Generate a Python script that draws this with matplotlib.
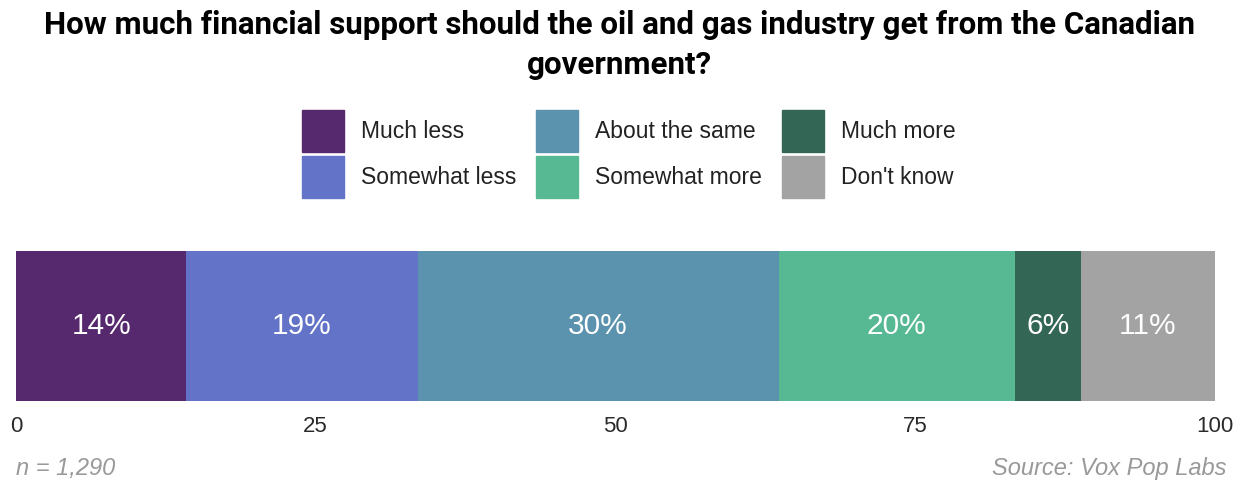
import matplotlib.pyplot as plt
from matplotlib.patches import Rectangle

# data
categories = ["Much less", "Somewhat less", "About the same",
              "Somewhat more", "Much more", "Don't know"]
shares = [14.2, 19.3, 30.1, 19.7, 5.5, 11.2]
labels = ["14%", "19%", "30%", "20%", "6%", "11%"]
colors = ["#56286e", "#6373c7", "#5b93ae", "#57b994", "#336654", "#a3a3a3"]
ticks = [0, 25, 50, 75, 100]

plt.rcParams['font.family'] = ['Liberation Sans', 'DejaVu Sans']

W, H = 1239, 483
fig = plt.figure(figsize=(W / 100, H / 100), dpi=100)
ax = fig.add_axes([16 / W, 1 - 401 / H, (1215 - 16) / W, 150 / H])

left = 0
for val, lab, col in zip(shares, labels, colors):
    ax.barh(0, val, left=left, height=1, color=col, edgecolor='none')
    ax.text(left + val / 2, 0, lab, ha='center', va='center',
            color='white', fontsize=21.5)
    left += val

ax.set_xlim(0, 100)
ax.set_ylim(-0.5, 0.5)
ax.set_yticks([])
ax.set_xticks(ticks)
ax.set_xticklabels([str(t) for t in ticks])
ax.tick_params(axis='x', length=0, pad=11, labelsize=16, labelcolor='#2a2a2a')
for s in ax.spines.values():
    s.set_visible(False)

# title
fig.text(0.5, 1 - 45 / H,
         "How much financial support should the oil and gas industry get from the Canadian\ngovernment?",
         ha='center', va='center', fontsize=22.5, fontweight='bold',
         family=['Roboto', 'DejaVu Sans'], linespacing=1.4)

# legend drawn by hand, 3 columns x 2 rows
col_x = [302, 536, 782]
row_y = [110, 156]
sq = 42
for i, (cat, col) in enumerate(zip(categories, colors)):
    cx = col_x[i // 2]
    ry = row_y[i % 2]
    fig.add_artist(Rectangle((cx / W, 1 - (ry + sq) / H), sq / W, sq / H,
                             transform=fig.transFigure, color=col))
    fig.text((cx + 59) / W, 1 - (ry + sq / 2) / H, cat, ha='left',
             va='center', fontsize=16.5, color='#222222')

# footer
fig.text(16 / W, 1 - 469 / H, "n = 1,290", ha='left', va='center',
         fontsize=17, style='italic', color='#999999')
fig.text(1227 / W, 1 - 469 / H, "Source: Vox Pop Labs", ha='right',
         va='center', fontsize=17, style='italic', color='#999999')

fig.savefig("out.png", dpi=100)
